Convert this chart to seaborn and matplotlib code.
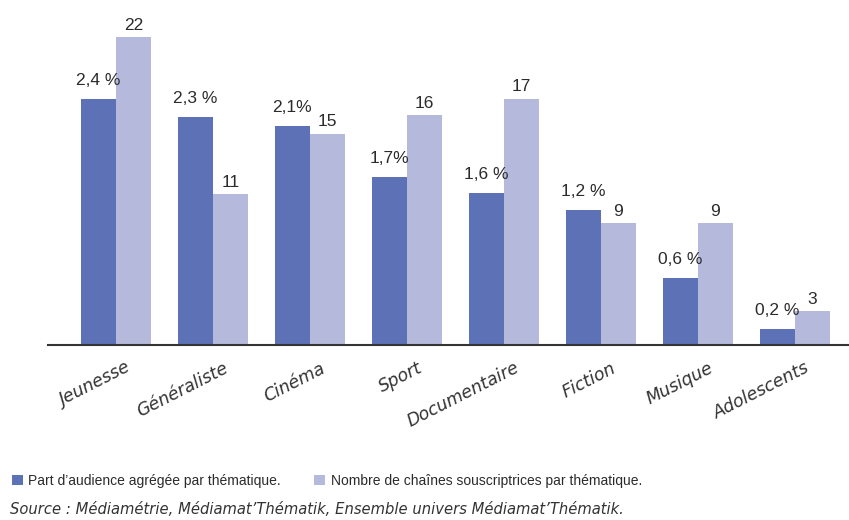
import matplotlib
import matplotlib.pyplot as plt
import matplotlib.transforms as mtransforms
import pandas as pd
import seaborn as sns

matplotlib.use("Agg")

# données
themes = ["Jeunesse", "Généraliste", "Cinéma", "Sport", "Documentaire",
          "Fiction", "Musique", "Adolescents"]
share_labels = ["2,4 %", "2,3 %", "2,1%", "1,7%", "1,6 %", "1,2 %", "0,6 %", "0,2 %"]
# hauteur des barres de part d'audience telle que dessinée (en %)
share_bars = [2.46, 2.28, 2.19, 1.68, 1.52, 1.35, 0.67, 0.16]
channel_labels = ["22", "11", "15", "16", "17", "9", "9", "3"]
# hauteur des barres du nombre de chaînes telle que dessinée
channel_bars = [22.0, 10.8, 15.1, 16.4, 17.6, 8.7, 8.7, 2.4]

SERIES_SHARE = "Part d\u2019audience agrégée par thématique."
SERIES_COUNT = "Nombre de chaînes souscriptrices par thématique."
SOURCE = "Source : Médiamétrie, Médiamat\u2019Thématik, Ensemble univers Médiamat\u2019Thématik."

DARK = "#5c71b6"
LIGHT = "#b5b9dc"
TEXT = "#2b2b2b"

# 1 % dessiné = 100/14 unités de l'axe des chaînes
SHARE_SCALE = 100 / 14

df = pd.DataFrame({
    "theme": themes * 2,
    "serie": [SERIES_SHARE] * len(themes) + [SERIES_COUNT] * len(themes),
    "valeur": [v * SHARE_SCALE for v in share_bars] + channel_bars,
})

fig = plt.figure(figsize=(8.49, 5.2), dpi=100)
ax = fig.add_axes([48 / 849, 175 / 520, 801 / 849, 325 / 520])

sns.barplot(data=df, x="theme", y="valeur", hue="serie", order=themes,
            hue_order=[SERIES_SHARE, SERIES_COUNT],
            palette=[DARK, LIGHT], width=0.72, linewidth=0, saturation=1,
            ax=ax, legend=True)

ax.set_xlim(-0.70, 7.56)
ax.set_ylim(0, 325 / 14)

# étiquettes au-dessus des barres
ax.bar_label(ax.containers[0], labels=share_labels, padding=8, fontsize=12.5,
             family="Liberation Sans", color=TEXT)
ax.bar_label(ax.containers[1], labels=channel_labels, padding=3, fontsize=12.5,
             family="Liberation Sans", color=TEXT)

# axes
for side in ["left", "right", "top"]:
    ax.spines[side].set_visible(False)
ax.spines["bottom"].set_color("#333333")
ax.spines["bottom"].set_linewidth(1.5)
ax.set_yticks([])
ax.set_xlabel("")
ax.set_ylabel("")
ax.tick_params(axis="x", length=0, pad=0)
ax.set_xticks(range(len(themes)))
ax.set_xticklabels(themes, rotation=27, rotation_mode="anchor", ha="right", va="top",
                   fontsize=12.5, fontstyle="italic", family="DejaVu Sans", color="#333333")
offset = mtransforms.ScaledTranslation(10 / 100, -14 / 100, fig.dpi_scale_trans)
for lab in ax.get_xticklabels():
    lab.set_transform(lab.get_transform() + offset)

# légende en bas
handles, labels = ax.get_legend_handles_labels()
ax.get_legend().remove()
fig.legend(handles, labels, loc="center left", bbox_to_anchor=(6 / 849, 1 - 481 / 520),
           ncol=2, frameon=False, handlelength=0.8, handleheight=0.8,
           handletextpad=0.4, columnspacing=2.4, borderaxespad=0,
           prop={"family": "Liberation Sans", "size": 10}, labelcolor=TEXT)

fig.text(10 / 849, 1 - 509 / 520, SOURCE, ha="left", va="center", fontsize=10.6,
         fontstyle="italic", family="DejaVu Sans", color="#333333")

fig.savefig("out.png", dpi=100)
plt.close(fig)
